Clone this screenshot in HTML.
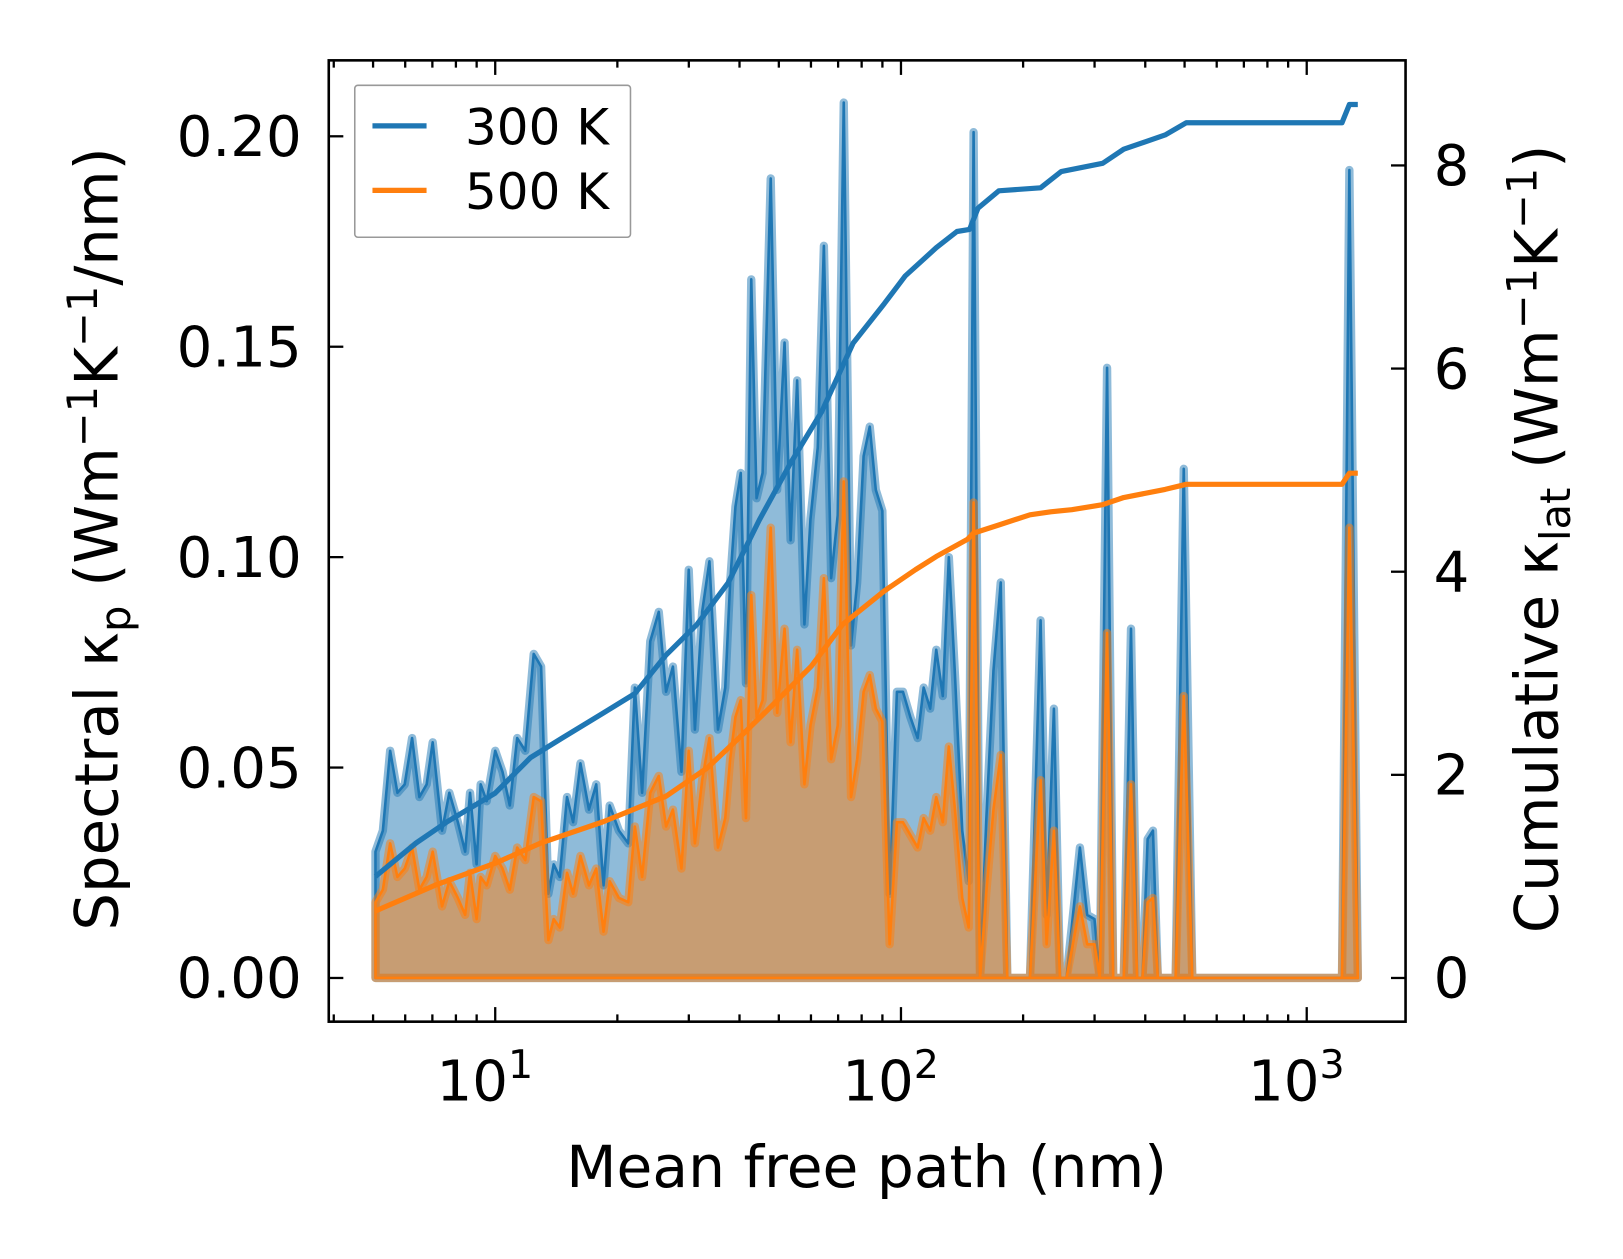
<!DOCTYPE html>
<html><head><meta charset="utf-8">
<style>
html,body{margin:0;padding:0;background:#fff;}
svg text{font-family:"DejaVu Sans","Liberation Sans",sans-serif;fill:#000;}
</style></head>
<body>
<svg id="chart" width="1623" height="1254" viewBox="0 0 1560 1205.3" xmlns="http://www.w3.org/2000/svg">
<rect width="1560" height="1206" fill="#fff"/>
<g id="plot"></g>
<g id="axes"></g>
<text x="833" y="1141" font-size="56" text-anchor="middle">Mean free path (nm)</text>
<text transform="translate(113,518) rotate(-90)" font-size="57" text-anchor="middle">Spectral κ<tspan font-size="40" dy="12">p</tspan><tspan dy="-12"> (Wm</tspan><tspan font-size="40" dy="-20">−1</tspan><tspan dy="20">K</tspan><tspan font-size="40" dy="-20">−1</tspan><tspan dy="20">/nm)</tspan></text>
<text transform="translate(1497,518) rotate(-90)" font-size="57" text-anchor="middle">Cumulative κ<tspan font-size="40" dy="12">lat</tspan><tspan dy="-12"> (Wm</tspan><tspan font-size="40" dy="-20">−1</tspan><tspan dy="20">K</tspan><tspan font-size="40" dy="-20">−1</tspan><tspan dy="20">)</tspan></text>
<g>
<rect x="341" y="82" width="265" height="146" fill="#fff" fill-opacity="0.8" stroke="#999" stroke-width="1.5" rx="3"/>
<line x1="358" x2="410" y1="121" y2="121" stroke="#1f77b4" stroke-width="5"/>
<text x="447" y="139" font-size="48">300 K</text>
<line x1="358" x2="410" y1="183" y2="183" stroke="#ff7f0e" stroke-width="5"/>
<text x="447" y="201" font-size="48">500 K</text>
</g>
</svg>
<script>
// log10 of mean free path (nm) for spectral samples
const specLogMfp = [0.705,0.723,0.741,0.759,0.777,0.795,0.813,0.831,0.846,0.869,0.887,0.908,0.926,0.938,0.954,0.964,0.979,1.000,1.018,1.036,1.054,1.074,1.095,1.113,1.131,1.144,1.159,1.177,1.192,1.210,1.231,1.249,1.267,1.282,1.305,1.328,1.344,1.362,1.382,1.403,1.421,1.438,1.459,1.477,1.492,1.510,1.528,1.549,1.567,1.579,1.592,1.605,1.618,1.631,1.644,1.659,1.679,1.695,1.713,1.728,1.744,1.762,1.777,1.795,1.810,1.828,1.844,1.859,1.877,1.892,1.908,1.923,1.938,1.954,1.972,1.990,2.005,2.023,2.041,2.056,2.072,2.087,2.103,2.118,2.133,2.151,2.167,2.179,2.195,2.210,2.228,2.246,2.262,2.318,2.344,2.359,2.377,2.392,2.408,2.441,2.459,2.477,2.490,2.508,2.523,2.549,2.567,2.582,2.595,2.608,2.621,2.633,2.677,2.697,2.718,3.087,3.105,3.126];
const spec300 = [0.030,0.035,0.054,0.044,0.046,0.057,0.043,0.046,0.056,0.035,0.044,0.037,0.030,0.044,0.027,0.046,0.042,0.054,0.049,0.041,0.057,0.054,0.077,0.074,0.020,0.027,0.024,0.043,0.037,0.051,0.040,0.046,0.022,0.041,0.035,0.032,0.069,0.044,0.080,0.087,0.068,0.074,0.049,0.097,0.059,0.087,0.099,0.059,0.069,0.094,0.112,0.120,0.070,0.166,0.114,0.120,0.190,0.116,0.151,0.104,0.142,0.084,0.109,0.126,0.174,0.095,0.110,0.208,0.079,0.094,0.124,0.131,0.116,0.111,0.020,0.068,0.068,0.062,0.057,0.069,0.064,0.078,0.067,0.100,0.072,0.035,0.023,0.201,0,0.037,0.073,0.094,0,0,0.085,0.015,0.064,0,0,0.031,0.015,0.014,0,0.145,0,0,0.083,0,0,0.033,0.035,0,0,0.121,0,0,0.192,0];
const spec500 = [0.018,0.021,0.032,0.024,0.026,0.031,0.021,0.024,0.030,0.017,0.023,0.019,0.015,0.025,0.014,0.024,0.022,0.029,0.026,0.021,0.031,0.028,0.043,0.042,0.009,0.014,0.012,0.025,0.020,0.029,0.022,0.026,0.011,0.023,0.019,0.018,0.036,0.024,0.044,0.048,0.036,0.040,0.026,0.054,0.032,0.047,0.057,0.031,0.038,0.052,0.062,0.066,0.038,0.091,0.062,0.066,0.107,0.063,0.083,0.056,0.078,0.046,0.060,0.069,0.095,0.052,0.060,0.118,0.043,0.052,0.068,0.072,0.064,0.061,0.008,0.037,0.037,0.034,0.031,0.038,0.035,0.043,0.037,0.055,0.040,0.019,0.012,0.113,0,0.020,0.040,0.053,0,0,0.047,0.008,0.035,0,0,0.017,0.008,0.008,0,0.082,0,0,0.046,0,0,0.018,0.019,0,0,0.067,0,0,0.107,0];
// cumulative kappa
const cumLogMfp300 = [0.705,0.805,0.882,1.000,1.087,1.164,1.267,1.344,1.421,1.497,1.574,1.651,1.728,1.805,1.882,1.959,2.010,2.087,2.138,2.169,2.190,2.241,2.344,2.395,2.497,2.549,2.651,2.703,3.087,3.105,3.126];
const cum300 = [1.00,1.33,1.54,1.82,2.17,2.36,2.61,2.80,3.18,3.48,3.89,4.51,5.07,5.58,6.25,6.64,6.91,7.19,7.35,7.37,7.58,7.75,7.78,7.94,8.02,8.16,8.30,8.42,8.42,8.60,8.60];
const cumLogMfp500 = [0.705,0.856,1.000,1.113,1.267,1.421,1.523,1.600,1.677,1.779,1.856,1.959,2.036,2.087,2.164,2.179,2.241,2.318,2.369,2.421,2.497,2.549,2.651,2.703,3.087,3.105,3.126];
const cum500 = [0.66,0.92,1.13,1.33,1.54,1.79,2.07,2.36,2.66,3.07,3.48,3.81,4.02,4.15,4.32,4.38,4.46,4.56,4.59,4.61,4.66,4.73,4.81,4.86,4.86,4.97,4.97];
const leftTicks = [0,0.05,0.10,0.15,0.20];
const leftTickLabels = ["0.00","0.05","0.10","0.15","0.20"];
const rightTicks = [0,2,4,6,8];
const xMajor = [1,2,3];

const L=316,R=1351,T=58,B=982;
const X = lg => 476 + (lg-1)*390;
const YL = v => 940 - v/0.05*202.25;
const YR = v => 940 - v*97.625;
const NS="http://www.w3.org/2000/svg";
const plot=document.getElementById('plot'), axes=document.getElementById('axes');
function mk(tag,attrs,parent){const e=document.createElementNS(NS,tag);for(const k in attrs)e.setAttribute(k,attrs[k]);parent.appendChild(e);return e;}

function specPath(vals){
  let d='M'+X(specLogMfp[0])+','+YL(0);
  for(let i=0;i<vals.length;i++) d+=' L'+X(specLogMfp[i]).toFixed(1)+','+YL(vals[i]).toFixed(1);
  d+=' L'+X(specLogMfp[specLogMfp.length-1])+','+YL(0)+' Z';
  return d;
}
function drawSpec(vals,color,name){
  const d=specPath(vals);
  const f=mk('path',{d:d,fill:color,'fill-opacity':0.5,stroke:color,'stroke-opacity':0.5,'stroke-width':8,'stroke-linejoin':'round'},plot);
  
  
  const l=mk('path',{d:d,fill:'none',stroke:color,'stroke-width':2.5,'stroke-linejoin':'round'},plot);
  
  
}
drawSpec(spec300,'#1f77b4','spectral-300k');
drawSpec(spec500,'#ff7f0e','spectral-500k');

function drawCum(xs,vals,color,name){
  let d='';
  for(let i=0;i<vals.length;i++) d+=(i?' L':'M')+X(xs[i]).toFixed(1)+','+YR(vals[i]).toFixed(1);
  const p=mk('path',{d:d,fill:'none',stroke:color,'stroke-width':5,'stroke-linejoin':'round'},plot);
  
  
}
drawCum(cumLogMfp300,cum300,'#1f77b4','cumulative-300k');
drawCum(cumLogMfp500,cum500,'#ff7f0e','cumulative-500k');

const fr=mk('rect',{x:L,y:T,width:R-L,height:B-T,fill:'none',stroke:'#000','stroke-width':2.5},axes);


for(let dec=0;dec<=3;dec++){
  for(let m=1;m<10;m++){
    const lg=dec+Math.log10(m);
    const x=X(lg);
    if(x<L+2||x>R-2) continue;
    const len=m===1?14:7;
    mk('line',{x1:x,x2:x,y1:B,y2:B-len,stroke:'#000','stroke-width':2.2},axes);
    mk('line',{x1:x,x2:x,y1:T,y2:T+len,stroke:'#000','stroke-width':2.2},axes);
  }
}
xMajor.forEach(e=>{
  const t=mk('text',{x:X(e)-10,y:1058,'font-size':54,'text-anchor':'middle'},axes);
  t.textContent='10';
  const s=mk('tspan',{dy:-22,'font-size':38},t);
  s.textContent=String(e);
  
  
});
leftTicks.forEach((v,i)=>{
  const y=YL(v);
  mk('line',{x1:L,x2:L+14,y1:y,y2:y,stroke:'#000','stroke-width':2.2},axes);
  const t=mk('text',{x:290,y:y+19,'font-size':54,'text-anchor':'end'},axes);
  t.textContent=leftTickLabels[i];
  
  
});
rightTicks.forEach(v=>{
  const y=YR(v);
  mk('line',{x1:R,x2:R-14,y1:y,y2:y,stroke:'#000','stroke-width':2.2},axes);
  const t=mk('text',{x:1378,y:y+19,'font-size':54,'text-anchor':'start'},axes);
  t.textContent=String(v);
  
  
});
</script>
</body></html>
